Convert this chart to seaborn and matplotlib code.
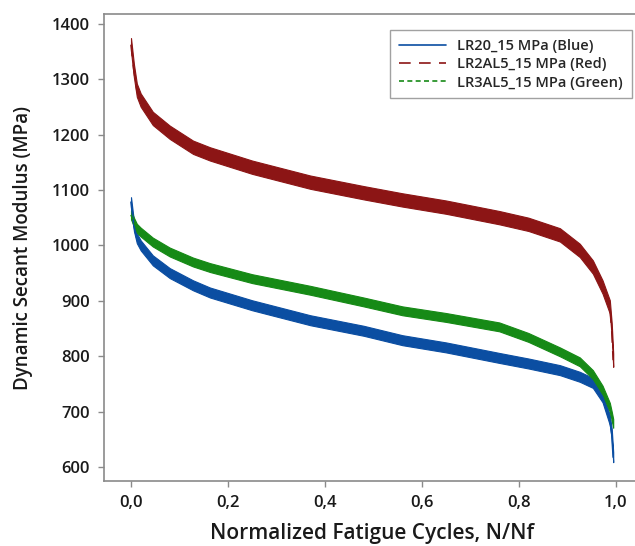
import matplotlib
matplotlib.use("Agg")
import matplotlib.pyplot as plt
import seaborn as sns
import pandas as pd

# Normalized fatigue life positions (N/Nf)
cycles = [0.000, 0.006, 0.012, 0.020, 0.045, 0.080, 0.128, 0.163, 0.250, 0.370,
          0.480, 0.560, 0.650, 0.760, 0.820, 0.885, 0.926, 0.953, 0.973, 0.988,
          0.992, 0.995]

# Dynamic secant modulus (MPa), mid-line of each scatter band
lr20 = [1078, 1035, 1013, 1000, 973, 950, 928, 915, 892, 865,
        846, 829, 816, 797, 787, 775, 763, 752, 726, 685,
        660, 618]
lr2al5 = [1362, 1315, 1280, 1262, 1229, 1204, 1177, 1165, 1141, 1114,
          1095, 1082, 1069, 1050, 1038, 1019, 991, 961, 925, 889,
          847, 793]
lr3al5 = [1055, 1042, 1031, 1024, 1006, 988, 970, 960, 940, 919,
          898, 882, 870, 853, 834, 808, 790, 767, 739, 708,
          692, 679]

labels = ["LR20_15 MPa (Blue)", "LR2AL5_15 MPa (Red)", "LR3AL5_15 MPa (Green)"]

# Half-height of the cycle-to-cycle scatter for each specimen (MPa)
scatter_mpa = [9, 12, 8]

colors = ["#0b4ea2", "#8c1515", "#168a16"]
dash_styles = ["", (7, 5), (3, 2)]

frames = []
for lab, vals in zip(labels, [lr20, lr2al5, lr3al5]):
    frames.append(pd.DataFrame({"N/Nf": cycles, "Modulus": vals, "Specimen": lab}))
df = pd.concat(frames, ignore_index=True)

sns.set_theme(style="white")
plt.rcParams["font.family"] = ["Open Sans", "DejaVu Sans"]
plt.rcParams["font.weight"] = "semibold"

fig = plt.figure(figsize=(6.35, 5.46), dpi=100)
ax = fig.add_axes([0.1638, 0.119, 0.845, 0.855])

palette = dict(zip(labels, colors))
for lab, s in zip(labels, scatter_mpa):
    sub = df[df["Specimen"] == lab]
    ax.fill_between(sub["N/Nf"], sub["Modulus"] - s, sub["Modulus"] + s,
                    color=palette[lab], linewidth=0.8, edgecolor=palette[lab])

sns.lineplot(data=df, x="N/Nf", y="Modulus", hue="Specimen", style="Specimen",
             palette=palette, dashes=dict(zip(labels, dash_styles)),
             hue_order=labels, style_order=labels, linewidth=1.2, ax=ax,
             sort=False, estimator=None)

ax.set_xlim(-0.0557, 1.0515)
ax.set_ylim(575, 1417)
ax.set_xticks([0.0, 0.2, 0.4, 0.6, 0.8, 1.0])
ax.set_xticklabels(["0,0", "0,2", "0,4", "0,6", "0,8", "1,0"])
ax.set_yticks(range(600, 1401, 100))

for sp in ax.spines.values():
    sp.set_color("#8a8a8a")
    sp.set_linewidth(1.2)
ax.tick_params(axis="both", direction="out", length=4, width=1, color="#8a8a8a",
               labelsize=12, labelcolor="#1a1a1a", pad=6, left=True, bottom=True)

ax.set_xlabel("Normalized Fatigue Cycles, N/Nf", fontsize=15, color="#1a1a1a",
              fontweight="semibold", labelpad=9)
ax.set_ylabel("Dynamic Secant Modulus (MPa)", fontsize=13.5, color="#1a1a1a",
              fontweight="semibold", labelpad=14)

leg = ax.legend(loc="upper right", bbox_to_anchor=(632 / 635, 1 - 30 / 546),
                bbox_transform=fig.transFigure, frameon=True, fancybox=False,
                fontsize=10.5, handlelength=3.2, borderpad=0.6, labelspacing=0.3,
                borderaxespad=0, title=None)
leg.get_frame().set_edgecolor("#8a8a8a")
leg.get_frame().set_linewidth(1.0)

fig.savefig("out.png", dpi=100)
